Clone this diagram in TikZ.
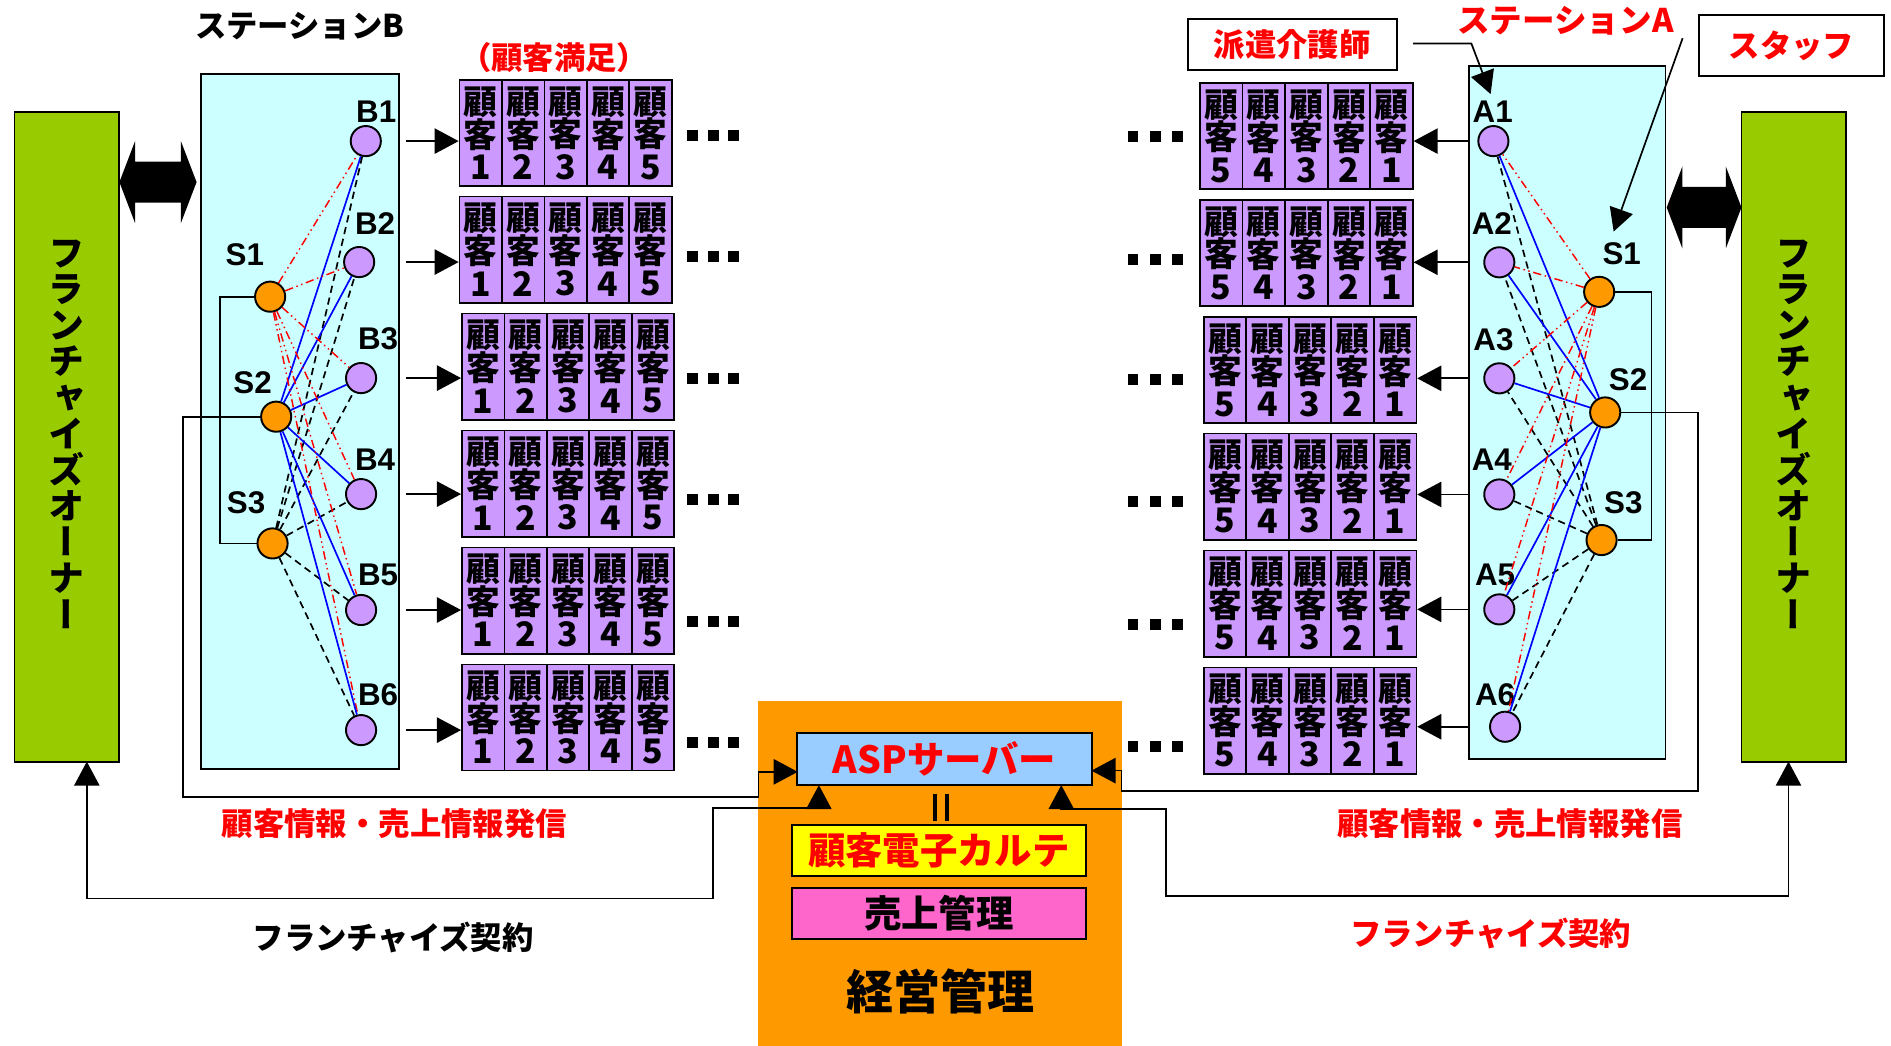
\documentclass[tikz,border=0pt]{standalone}
\usepackage{fontspec}
\usepackage{graphicx}
\usetikzlibrary{arrows.meta,calc}
\newfontfamily\jp{Noto Sans CJK JP}
\newfontfamily\jpv{Noto Sans CJK JP}[RawFeature=+vert]
\newfontfamily\lat{Liberation Sans}
\definecolor{fgreen}{HTML}{99CC00}
\definecolor{scyan}{HTML}{CCFFFF}
\definecolor{cpurple}{HTML}{CC99FF}
\definecolor{corange}{HTML}{FF9900}
\definecolor{aspblue}{HTML}{99CCFF}
\definecolor{cyellow}{HTML}{FFFF00}
\definecolor{cpink}{HTML}{FF66CC}
\definecolor{cred}{HTML}{FF0000}
\definecolor{cblue}{HTML}{0000FF}
\tikzset{
  box/.style={draw, line width=0.8pt, inner sep=0pt},
  cell/.style={draw, fill=cpurple, line width=0.7pt, minimum width=17.6pt, minimum height=44pt, inner sep=0pt, align=center, font=\jp\bfseries\fontsize{14}{13.5}\selectfont},
  pnode/.style={circle, draw, fill=cpurple, line width=0.8pt, minimum size=12.5pt, inner sep=0pt},
  snode/.style={circle, draw, fill=corange, line width=0.8pt, minimum size=12.5pt, inner sep=0pt},
  lbl/.style={font=\lat\bfseries\fontsize{13}{13}\selectfont, inner sep=0pt},
  jtxt/.style={font=\jp\bfseries\fontsize{13}{13}\selectfont, inner sep=0pt},
  vtxt/.style={font=\jpv\bfseries\fontsize{15}{15}\selectfont, inner sep=0pt, align=center},
  redl/.style={cred, line width=0.6pt, dash pattern=on 3.5pt off 1.5pt on 0.6pt off 1.5pt on 0.6pt off 1.5pt},
  bluel/.style={cblue, line width=0.7pt},
  blkl/.style={black, line width=0.7pt, dash pattern=on 3pt off 2pt},
  conn/.style={line width=0.7pt},
  tip/.style={-{Triangle[length=10pt,width=10.5pt]}},
  tips/.style={{Triangle[length=10pt,width=10.5pt]}-{Triangle[length=10pt,width=10.5pt]}},
}
\begin{document}
\begin{tikzpicture}[x=0.5pt,y=-0.5pt]
\useasboundingbox (0,0) rectangle (1568,867);

% franchise owner boxes
\node[box, fill=fgreen, minimum width=43.5pt, minimum height=269.5pt] (gL) at (55.5,362) {};
\node[vtxt] (gLt) at (55.5,360) {フ\\ラ\\ン\\チ\\ャ\\イ\\ズ\\オ\\ー\\ナ\\ー};
\node[box, fill=fgreen, minimum width=43.5pt, minimum height=269.5pt] (gR) at (1487.5,362) {};
\node[vtxt] (gRt) at (1487.5,360) {フ\\ラ\\ン\\チ\\ャ\\イ\\ズ\\オ\\ー\\ナ\\ー};
\coordinate (gLb) at (72,631.5);
\coordinate (gRb) at (1483,631.5);

% double arrows
\fill (99,151) -- (112,117) -- (112,134) -- (150,134) -- (150,117) -- (163,151) -- (150,185) -- (150,168) -- (112,168) -- (112,185) -- cycle;
\fill (1382,172) -- (1395,138) -- (1395,155) -- (1431,155) -- (1431,138) -- (1444,172) -- (1431,206) -- (1431,189) -- (1395,189) -- (1395,206) -- cycle;

% stations
\node[box, fill=scyan, minimum width=82pt, minimum height=288.25pt] (stB) at (249,349.25) {};
\node[box, fill=scyan, minimum width=81.5pt, minimum height=287.5pt] (stA) at (1299.5,342) {};
\node[jtxt, font=\jp\bfseries\fontsize{13}{13}\selectfont] (stBt) at (248.5,22) {ステーションB};
\node[jtxt, text=cred, font=\jp\bfseries\fontsize{13.5}{13.5}\selectfont] (stAt) at (1298,17) {ステーションA};
\node[jtxt, text=cred, font=\jp\bfseries\fontsize{13}{13}\selectfont] (sat) at (459.5,48) {（顧客満足）};

% station B nodes
\node[pnode] (bB1) at (303.3,117) {};
\node[pnode] (bB2) at (297.8,217.3) {};
\node[pnode] (bB3) at (299.4,313.5) {};
\node[pnode] (bB4) at (299.4,409.7) {};
\node[pnode] (bB5) at (299.4,505.8) {};
\node[pnode] (bB6) at (299.4,605.4) {};
\node[snode] (bS1) at (224,246) {};
\node[snode] (bS2) at (229,345.5) {};
\node[snode] (bS3) at (226,450.6) {};
\node[lbl] (lB1) at (312,92.6) {B1};
\node[lbl] (lB2) at (311,185) {B2};
\node[lbl] (lB3) at (313.5,281) {B3};
\node[lbl] (lB4) at (311,381.5) {B4};
\node[lbl] (lB5) at (313.5,476.8) {B5};
\node[lbl] (lB6) at (313.5,576) {B6};
\node[lbl] (lbS1) at (203,211.5) {S1};
\node[lbl] (lbS2) at (209.5,317.6) {S2};
\node[lbl] (lbS3) at (204,417) {S3};

% station A nodes
\node[pnode] (aA1) at (1238.3,117) {};
\node[pnode] (aA2) at (1243.2,217.5) {};
\node[pnode] (aA3) at (1243.2,313.7) {};
\node[pnode] (aA4) at (1243.2,410) {};
\node[pnode] (aA5) at (1243.2,505.3) {};
\node[pnode] (aA6) at (1248,602.6) {};
\node[snode] (aS1) at (1326,242) {};
\node[snode] (aS2) at (1331,342) {};
\node[snode] (aS3) at (1328,447.8) {};
\node[lbl] (lA1) at (1237.7,92.6) {A1};
\node[lbl] (lA2) at (1237,185) {A2};
\node[lbl] (lA3) at (1238.3,281.4) {A3};
\node[lbl] (lA4) at (1237,381.5) {A4};
\node[lbl] (lA5) at (1239.7,476.8) {A5};
\node[lbl] (lA6) at (1239.7,576) {A6};
\node[lbl] (laS1) at (1344.7,210) {S1};
\node[lbl] (laS2) at (1350,315) {S2};
\node[lbl] (laS3) at (1346,417) {S3};

% station edges
\foreach \i in {1,...,6} {
  \draw[redl] (bS1) -- (bB\i);
  \draw[bluel] (bS2) -- (bB\i);
  \draw[blkl] (bS3) -- (bB\i);
  \draw[redl] (aS1) -- (aA\i);
  \draw[bluel] (aS2) -- (aA\i);
  \draw[blkl] (aS3) -- (aA\i);
}
\draw[conn] (bS1.west) -- ++(-28.5,0) |- (bS3.west);
\draw[conn] (aS1.east) -- ++(30,0) |- (aS3.east);

% customer rows left
\foreach \r/\xl/\yt in {1/381/66.5, 2/381/163, 3/383/260, 4/383/357, 5/383/454, 6/383/551} {
  \foreach \c in {1,...,5} {
    \node[cell] (L\r-\c) at ({\xl+35.2*(\c-0.5)},{\yt+44}) {顧\\客\\\c};
  }
  \draw[conn,tip] ($(stB.east |- bB\r)+(5,0)$) -- (L\r-1.west |- bB\r);
}
% customer rows right
\foreach \r/\xl/\yt in {1/995/69, 2/995/166, 3/998/263, 4/998/359.5, 5/998/456.5, 6/998/553.5} {
  \foreach \c in {1,...,5} {
    \pgfmathtruncatemacro\dd{6-\c}
    \node[cell] (R\r-\c) at ({\xl+35.3*(\c-0.5)},{\yt+44}) {顧\\客\\\dd};
  }
  \draw[conn,tip] (stA.west |- aA\r) -- (R\r-5.east |- aA\r);
}
% dots
\foreach \y in {112,213,313.5,414.5,515,616} {
  \foreach \x in {574.5,591.5,608.5} {
    \fill ({\x-4.5},{\y-4.5}) rectangle ++(9,9);
  }
}
\foreach \y in {113,215,315,416,518,619} {
  \foreach \x in {939.5,958,976.5} {
    \fill ({\x-4.5},{\y-4.5}) rectangle ++(9,9);
  }
}

% management block
\node[fill=corange, minimum width=150.65pt, minimum height=143pt, inner sep=0pt] (mgmt) at (779.35,724.5) {};
\node[box, fill=aspblue, minimum width=122.25pt, minimum height=21.5pt, text=cred, font=\jp\bfseries\fontsize{15.5}{15.5}\selectfont] (asp) at (783.25,629.5) {ASPサーバー};
\draw[line width=1.7pt] (775,658) -- (775,681);
\draw[line width=1.7pt] (785,658) -- (785,681);
\node[box, fill=cyellow, minimum width=122pt, minimum height=21pt, text=cred, font=\jp\bfseries\fontsize{15.5}{15.5}\selectfont] (karte) at (778.5,705) {顧客電子カルテ};
\node[box, fill=cpink, minimum width=122pt, minimum height=21.3pt, font=\jp\bfseries\fontsize{15.5}{15.5}\selectfont] (uri) at (778.5,757.3) {売上管理};
\node[jtxt, font=\jp\bfseries\fontsize{19.5}{19.5}\selectfont] (keiei) at (779.5,822.5) {経営管理};

% labels boxes
\node[box, fill=white, minimum width=86.5pt, minimum height=21pt, text=cred, font=\jp\bfseries\fontsize{13}{13}\selectfont] (haken) at (1071.5,37) {派遣介護師};
\node[box, fill=white, minimum width=76.5pt, minimum height=25.3pt, text=cred, font=\jp\bfseries\fontsize{13}{13}\selectfont] (staff) at (1485.5,37.7) {スタッフ};
\coordinate (hakenTip) at (1236,78);
\draw[conn, -{Triangle[length=9.5pt,width=10pt]}] ($(haken.east)+(13,-1)$) -- (1220,36) -- (hakenTip);
\coordinate (staffTip) at (1338,192);
\draw[conn, -{Triangle[length=9.5pt,width=10pt]}] ($(staff.west)+(-13,-6)$) -- (staffTip);

% ASP connections
\coordinate (aspL) at (661.5,640);
\coordinate (aspR) at (905,639);
\coordinate (aspBL) at (679,651);
\coordinate (aspBR) at (880,651);
\draw[conn, tip] (bS2.west) -- (152,345.5) -- (152,661) -- (629,661) -- (629,640) -- (aspL);
\draw[conn, tip] (aS2.east) -- (1408,342) -- (1408,656) -- (930,656) -- (930,639) -- (aspR);
\draw[conn, tips] (gLb) -- (72,745) -- (591,745) -- (591,670) -- (679,670) -- (aspBL);
\draw[conn, tips] (gRb) -- (1483,743) -- (967,743) -- (967,671) -- (880,671) -- (aspBR);

% bottom texts
\node[jtxt, text=cred] (infoL) at (327,683) {顧客情報・売上情報発信};
\node[jtxt, text=cred] (infoR) at (1252,683) {顧客情報・売上情報発信};
\node[jtxt] (frL) at (326,777) {フランチャイズ契約};
\node[jtxt, text=cred] (frR) at (1236,774) {フランチャイズ契約};
\end{tikzpicture}
\end{document}
